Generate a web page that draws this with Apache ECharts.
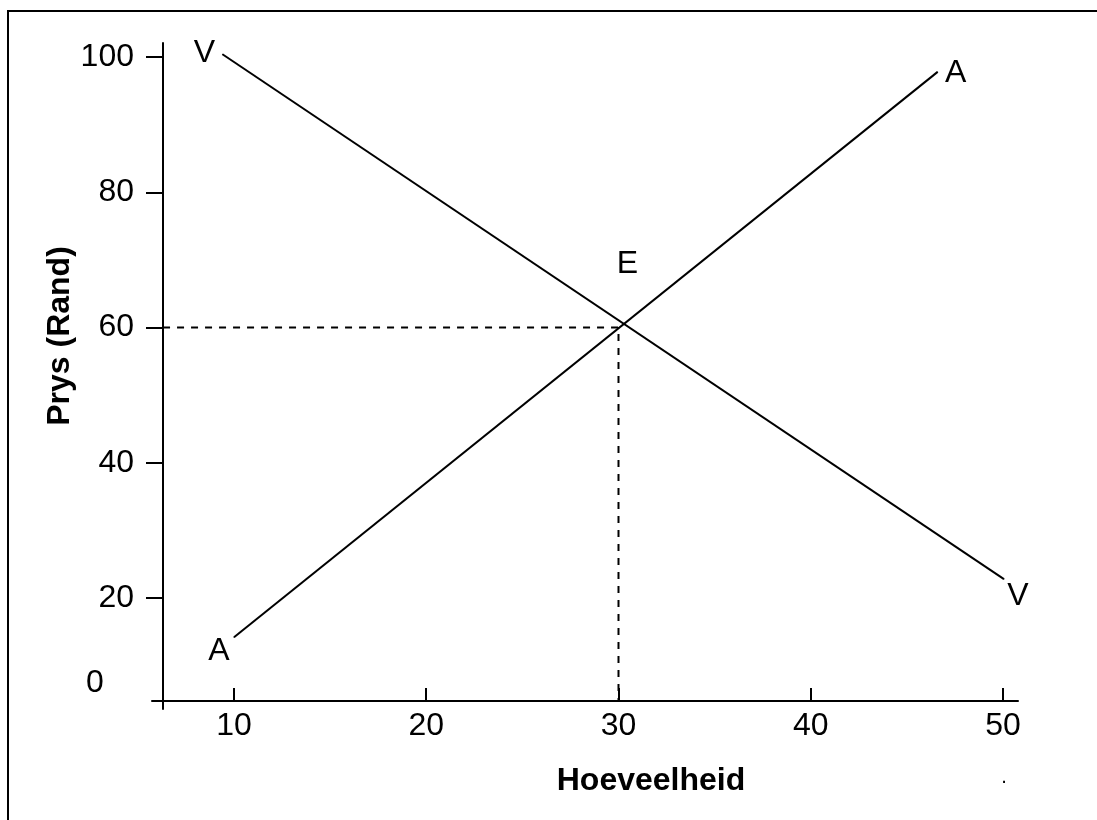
<!DOCTYPE html>
<html>
<head>
<meta charset="utf-8">
<script src="https://cdn.jsdelivr.net/npm/echarts@6/dist/echarts.min.js"></script>
<style>
  html, body { margin: 0; padding: 0; background: #fff; }
  #chart { width: 1097px; height: 820px; }
</style>
</head>
<body>
<div id="chart"></div>
<script>
// chart values
const xTicks = [10, 20, 30, 40, 50];
const yTicks = [20, 40, 60, 80, 100];
const demandV = [[9.4, 100.4], [50.05, 22.8]];   // V ... V
const supplyA = [[10, 14.2], [46.6, 97.8]];      // A ... A
const equilibrium = [30, 60];                     // E
const axisCross = [6.31, 4.77];                   // where the two axes cross
const xRange = [5.735, 50.78];
const yRange = [3.59, 102.07];

const font = '"Liberation Sans", Arial, sans-serif';
const fs = 32;

function pointLabel(text, dx, dy) {
  return {
    show: true,
    formatter: text,
    position: 'inside',
    offset: [dx, dy],
    color: '#000',
    fontSize: fs,
    fontFamily: font
  };
}

const lineStyle = { color: '#000', width: 2 };

const option = {
  animation: false,
  backgroundColor: '#fff',
  grid: { left: 152, right: 79, top: 43, bottom: 111 },
  xAxis: {
    type: 'value',
    min: xRange[0],
    max: xRange[1],
    offset: -8,
    splitLine: { show: false },
    axisLine: { lineStyle: { color: '#000', width: 2 } },
    axisTick: { inside: true, length: 13, customValues: xTicks, lineStyle: { color: '#000', width: 2 } },
    axisLabel: { customValues: xTicks, margin: 9, color: '#000', fontSize: fs, fontFamily: font }
  },
  yAxis: {
    type: 'value',
    min: yRange[0],
    max: yRange[1],
    offset: -11,
    splitLine: { show: false },
    axisLine: { lineStyle: { color: '#000', width: 2 } },
    axisTick: { length: 17, customValues: yTicks, lineStyle: { color: '#000', width: 2 } },
    axisLabel: { customValues: yTicks, margin: 29, color: '#000', fontSize: fs, fontFamily: font }
  },
  series: [
    {
      type: 'line',
      data: [
        { value: demandV[0], label: pointLabel('V', -18, -1) },
        { value: demandV[1], label: pointLabel('V', 14, 17) }
      ],
      symbol: 'circle',
      symbolSize: 1,
      itemStyle: { color: '#000' },
      lineStyle: lineStyle
    },
    {
      type: 'line',
      data: [
        { value: supplyA[0], label: pointLabel('A', -15, 14) },
        { value: supplyA[1], label: pointLabel('A', 18, 1) }
      ],
      symbol: 'circle',
      symbolSize: 1,
      itemStyle: { color: '#000' },
      lineStyle: lineStyle
    },
    {
      type: 'line',
      data: [
        [axisCross[0], equilibrium[1]],
        { value: equilibrium, label: pointLabel('E', 9, -63) },
        [equilibrium[0], axisCross[1]]
      ],
      symbol: 'circle',
      symbolSize: 1,
      itemStyle: { color: '#000' },
      lineStyle: { color: '#000', width: 2, type: [7, 7] }
    }
  ],
  graphic: [
    {
      type: 'rect',
      shape: { x: 8, y: 11, width: 2000, height: 2000 },
      style: { fill: 'none', stroke: '#000', lineWidth: 2 }
    },
    {
      type: 'text',
      x: 95, y: 683,
      style: { text: '0', x: 0, y: 0, textAlign: 'center', textVerticalAlign: 'middle', font: fs + 'px ' + font, fill: '#000' }
    },
    {
      type: 'text',
      x: 60, y: 336,
      rotation: Math.PI / 2,
      style: { text: 'Prys (Rand)', x: 0, y: 0, textAlign: 'center', textVerticalAlign: 'middle', font: 'bold ' + fs + 'px ' + font, fill: '#000' }
    },
    {
      type: 'text',
      x: 651, y: 781,
      style: { text: 'Hoeveelheid', x: 0, y: 0, textAlign: 'center', textVerticalAlign: 'middle', font: 'bold ' + fs + 'px ' + font, fill: '#000' }
    },
    {
      type: 'text',
      x: 1004, y: 777,
      style: { text: '.', x: 0, y: 0, textAlign: 'center', textVerticalAlign: 'middle', font: '20px ' + font, fill: '#000' }
    }
  ]
};

const chart = echarts.init(document.getElementById('chart'));
chart.setOption(option);
</script>
</body>
</html>
